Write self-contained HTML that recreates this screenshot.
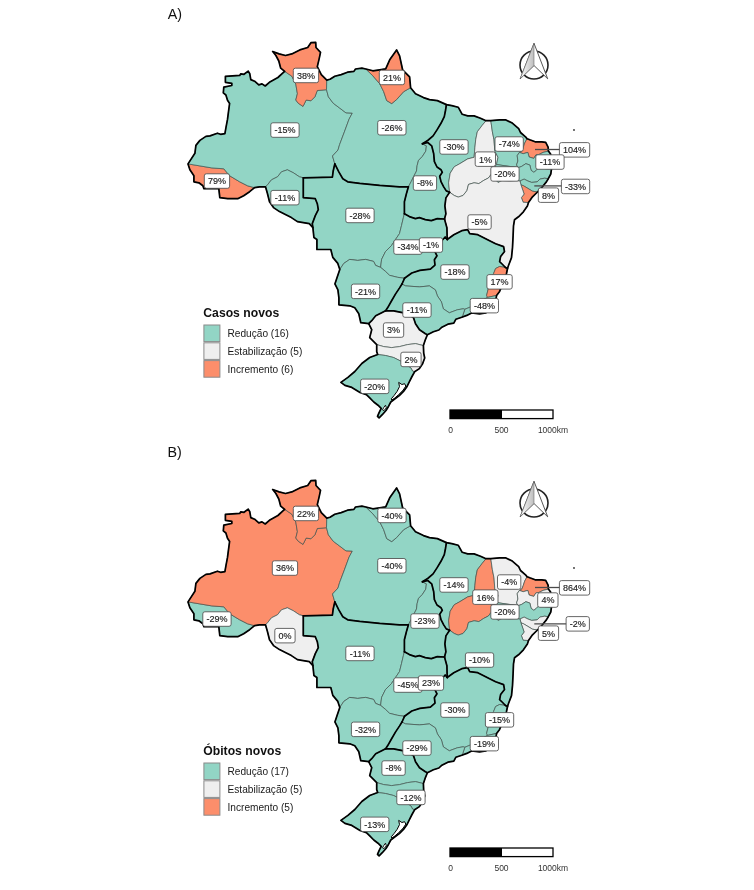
<!DOCTYPE html><html><head><meta charset="utf-8"><title>Mapa</title>
<style>html,body{margin:0;padding:0;background:#fff}svg{display:block}text{font-family:"Liberation Sans",sans-serif}</style></head><body>
<svg width="754" height="890" viewBox="0 0 754 890">
<rect width="754" height="890" fill="#fff"/>
<text x="167.7" y="19.3" font-size="14.3" fill="#111">A)</text>
<text x="167.4" y="457.3" font-size="14.3" fill="#111">B)</text>
<g transform="translate(0,0)">
<path d="M188,163.9 L194.9,153.3 L195.9,145.4 L199.9,140.4 L205.9,136.4 L210,135.9 L217.4,133.2 L220.6,134.3 L224.9,133.7 L225.9,127.9 L227.5,119.4 L228.6,110.9 L229.6,103.5 L227.5,100.3 L225.9,95 L223.3,92.9 L223.8,87.1 L231.8,85.5 L231.8,83.3 L225.4,82.3 L225.4,76.4 L239.7,75.4 L240.8,73.8 L244,74.3 L248.2,71.1 L249.8,73.8 L250.8,79.6 L254.6,81.2 L258.8,84.9 L262,83.9 L265.2,86 L269.4,82.3 L277.9,77.5 L284.3,71.7 L284.7,71.4 L280.7,68.2 L278.8,61 L275.9,55.5 L272.7,51.5 L279.1,53.9 L285.5,55.5 L291.8,53.9 L299.8,49.9 L307.7,47.5 L310.9,42.7 L315.7,42.4 L316,47.5 L320.5,52.3 L319.2,58.6 L317.3,66.6 L321.3,74.6 L326.8,80.1 L330,79.3 L334.8,76.2 L341.2,74.6 L347.5,72.2 L353.9,71.4 L355.5,69 L361.9,68.2 L365.8,69 L372.8,70.8 L379.7,69.8 L385.7,68.8 L389.7,59.8 L396.6,49.9 L399.6,55.9 L402.6,69.8 L409.6,76.8 L410.6,87.7 L415.5,93.7 L423.5,97.6 L429.5,99.6 L437.4,100.6 L446.4,104.6 L451.8,105.6 L458.2,107.2 L462.2,114.3 L467.7,115.9 L474.1,115.9 L480.5,118.3 L486,120.7 L490.8,120.7 L499.6,119.9 L505.9,119.9 L512.3,123.1 L518.7,128.6 L520.5,132.5 L525.8,137.1 L527.1,138.7 L529.8,139.8 L535.1,141.8 L541.7,141.8 L545.7,142.4 L548.1,147.1 L548.4,151.1 L550.6,154.1 L551.3,162 L551.5,168.9 L550.8,174 L548.3,178.7 L546.4,181.9 L541.8,187.5 L537.5,192 L532.5,196.8 L528.5,202.5 L527.4,205.9 L523.4,211.8 L518.5,216.8 L514.5,219.8 L513.5,225.8 L513.1,235.7 L512.5,247.6 L511.5,257.6 L508.5,265.5 L507.5,268.5 L506.5,273.5 L504.5,279.5 L502,285.4 L499.6,291.4 L496.6,295.4 L495.5,301.8 L491,308 L485.9,313 L479.6,313.8 L471.6,313 L466.8,315.4 L461.8,317.3 L455.8,319.3 L453.8,323.2 L447.9,324.2 L441.9,327.2 L438.9,330 L433.4,331.7 L427.4,334.7 L425.4,339.6 L423.4,345.6 L423.7,353.2 L424.7,358 L422.6,363.8 L419.4,368.6 L414.6,371.8 L412,376.5 L409.3,381.8 L406.7,387.1 L403.5,391.4 L399.3,395.6 L395,398.8 L390.8,402 L388.6,406.2 L386,410.5 L382.3,414.7 L379.1,417.9 L377.5,416.3 L379.1,412.6 L381.2,408.4 L378,405.2 L373.8,402 L369.5,397.7 L366.4,394.6 L360,392.4 L351.8,387.4 L344.9,385.4 L340.9,382.4 L347.9,377.4 L354.8,371.5 L361.8,363.5 L369.7,357.5 L377.7,354.5 L376.7,351.6 L376.7,344.6 L373.7,341.6 L369.7,337.6 L371.7,329.7 L368.7,323.7 L360.8,322.7 L358.8,313.8 L354.8,307.8 L349.8,305.8 L338.9,304.8 L338.9,297.9 L337.9,289.9 L334.9,283.9 L336.9,278 L339.8,269.4 L337.8,263.4 L332.8,257.4 L330.8,249.5 L316.9,249.5 L316.9,239.5 L313.9,237.5 L312.9,227.6 L309.3,223.6 L303.3,222.6 L297.4,221.6 L291.4,217.6 L285.4,214.6 L279.5,211.6 L273.5,207.6 L269.5,201.7 L267.5,193.7 L265.5,186.8 L259.6,186.8 L254.6,187.7 L249.6,191.7 L243.7,195.7 L237.7,198.7 L227.7,198.7 L219.8,197.7 L218.8,188.7 L203.9,188.7 L202.9,185.8 L198.9,182.8 L193.9,181.8 L193.9,175.8 L189.9,169.8 L188,163.9Z" fill="#92d5c5"/>
<g stroke="#46534f" stroke-width="0.7" stroke-linejoin="round">
<path d="M188,163.9 L199.9,165.9 L211.8,167.9 L223.8,168.8 L229.7,175.8 L239.7,181.8 L247.6,185.8 L254.6,187.7 L249.6,191.7 L243.7,195.7 L237.7,198.7 L227.7,198.7 L219.8,197.7 L218.8,188.7 L203.9,188.7 L202.9,185.8 L198.9,182.8 L193.9,181.8 L193.9,175.8 L189.9,169.8 L188,163.9Z" fill="#fc8e6b"/>
<path d="M188,163.9 L194.9,153.3 L195.9,145.4 L199.9,140.4 L205.9,136.4 L210,135.9 L217.4,133.2 L220.6,134.3 L224.9,133.7 L225.9,127.9 L227.5,119.4 L228.6,110.9 L229.6,103.5 L227.5,100.3 L225.9,95 L223.3,92.9 L223.8,87.1 L231.8,85.5 L231.8,83.3 L225.4,82.3 L225.4,76.4 L239.7,75.4 L240.8,73.8 L244,74.3 L248.2,71.1 L249.8,73.8 L250.8,79.6 L254.6,81.2 L258.8,84.9 L262,83.9 L265.2,86 L269.4,82.3 L277.9,77.5 L284.3,71.7 L284.7,71.4 L291.8,76.2 L295.8,84.1 L297.4,93.7 L295.8,100 L298.2,103.2 L303,106.4 L306.2,100 L310.9,100.8 L314.9,96.8 L317.3,90.5 L326.5,89.7 L328.4,96.8 L333.2,103.2 L339.6,108 L345.9,112.8 L352.3,113.1 L349.1,119.1 L344.4,131.9 L339.6,144.6 L338,150 L332.5,156 L334.8,163.9 L333.2,171 L332.4,177.2 L303.3,177.8 L299.4,176.8 L293.4,172.8 L287.4,169.8 L281.5,171.8 L277.5,176.8 L271.5,179.8 L267.5,184.8 L265.5,186.8 L259.6,186.8 L254.6,187.7 L247.6,185.8 L239.7,181.8 L229.7,175.8 L223.8,168.8 L211.8,167.9 L199.9,165.9 L188,163.9Z" fill="#92d5c5"/>
<path d="M284.7,71.4 L280.7,68.2 L278.8,61 L275.9,55.5 L272.7,51.5 L279.1,53.9 L285.5,55.5 L291.8,53.9 L299.8,49.9 L307.7,47.5 L310.9,42.7 L315.7,42.4 L316,47.5 L320.5,52.3 L319.2,58.6 L317.3,66.6 L321.3,74.6 L326.8,80.1 L326.5,89.7 L317.3,90.5 L314.9,96.8 L310.9,100.8 L306.2,100 L303,106.4 L298.2,103.2 L295.8,100 L297.4,93.7 L295.8,84.1 L291.8,76.2 L284.7,71.4Z" fill="#fc8e6b"/>
<path d="M265.5,186.8 L267.5,184.8 L271.5,179.8 L277.5,176.8 L281.5,171.8 L287.4,169.8 L293.4,172.8 L299.4,176.8 L303.3,177.8 L303.3,197.7 L315.3,198.7 L317.3,203.7 L318.3,209.6 L315.3,215.6 L312.3,223.6 L312.9,227.6 L309.3,223.6 L303.3,222.6 L297.4,221.6 L291.4,217.6 L285.4,214.6 L279.5,211.6 L273.5,207.6 L269.5,201.7 L267.5,193.7 L265.5,186.8Z" fill="#92d5c5"/>
<path d="M326.8,80.1 L330,79.3 L334.8,76.2 L341.2,74.6 L347.5,72.2 L353.9,71.4 L355.5,69 L361.9,68.2 L365.8,69 L372.8,75.8 L379.7,83.7 L383.7,91.7 L386.7,100.6 L391.7,103.6 L396.6,99.6 L403.6,91.7 L410.6,87.7 L415.5,93.7 L423.5,97.6 L429.5,99.6 L437.4,100.6 L446.4,104.6 L445.6,110 L444.3,116.6 L441,123.3 L437,129.9 L433.1,135.9 L427.7,140.5 L422.4,143.8 L426.4,145.8 L425.8,151.1 L422.4,156.4 L418.5,160.4 L417.1,165.7 L416.5,171 L413.8,176.3 L411.2,181.6 L408.4,186.8 L399.5,186.8 L379.6,185.4 L359.7,183.4 L347.7,181.8 L342.8,178.8 L338.8,171.9 L334.8,163.9 L332.5,156 L338,150 L339.6,144.6 L344.4,131.9 L349.1,119.1 L352.3,113.1 L345.9,112.8 L339.6,108 L333.2,103.2 L328.4,96.8 L326.5,89.7 L326.8,80.1Z" fill="#92d5c5"/>
<path d="M365.8,69 L372.8,70.8 L379.7,69.8 L385.7,68.8 L389.7,59.8 L396.6,49.9 L399.6,55.9 L402.6,69.8 L409.6,76.8 L410.6,87.7 L403.6,91.7 L396.6,99.6 L391.7,103.6 L386.7,100.6 L383.7,91.7 L379.7,83.7 L372.8,75.8 L365.8,69Z" fill="#fc8e6b"/>
<path d="M422.4,143.8 L427.7,142.5 L431.7,145.8 L433.7,153.8 L434.4,161.7 L437,167 L441,169.7 L442.3,172.3 L439.7,176.3 L441,181.6 L443.7,186.9 L446.3,190.9 L449.6,192.2 L445.9,197.9 L444.9,205.9 L445.9,213.8 L444.5,219 L437.3,218.6 L431.3,220.6 L425.3,219.6 L419.4,217.6 L415.4,218.6 L409.4,216.6 L404.4,213.7 L404.4,201.7 L406.4,193.8 L408.4,186.8 L411.2,181.6 L413.8,176.3 L416.5,171 L417.1,165.7 L418.5,160.4 L422.4,156.4 L425.8,151.1 L426.4,145.8 L422.4,143.8Z" fill="#92d5c5"/>
<path d="M446.4,104.6 L451.8,105.6 L458.2,107.2 L462.2,114.3 L467.7,115.9 L474.1,115.9 L480.5,118.3 L486,120.7 L482.1,125.5 L477.3,131.8 L475.7,139.8 L474.9,147.7 L474.1,157.3 L467.7,158.9 L459.8,163.7 L454.2,166.8 L450.2,173.2 L448.6,182.8 L449.6,192.2 L446.3,190.9 L443.7,186.9 L441,181.6 L439.7,176.3 L442.3,172.3 L441,169.7 L437,167 L434.4,161.7 L433.7,153.8 L431.7,145.8 L427.7,142.5 L422.4,143.8 L427.7,140.5 L433.1,135.9 L437,129.9 L441,123.3 L444.3,116.6 L445.6,110 L446.4,104.6Z" fill="#92d5c5"/>
<path d="M486,120.7 L490.8,120.7 L492.4,131.8 L494,139.8 L494.8,150.9 L498,157.3 L496.5,164.5 L493,170 L494,178 L490.8,174.8 L488.4,178 L483.7,180.4 L478.9,183.6 L474.1,182.8 L468.5,184.4 L466.9,190.7 L463,195.5 L458.2,197.1 L454.2,195.5 L449.6,192.2 L448.6,182.8 L450.2,173.2 L454.2,166.8 L459.8,163.7 L467.7,158.9 L474.1,157.3 L474.9,147.7 L475.7,139.8 L477.3,131.8 L482.1,125.5 L486,120.7Z" fill="#efefef"/>
<path d="M490.8,120.7 L499.6,119.9 L505.9,119.9 L512.3,123.1 L518.7,128.6 L520.5,132.5 L525.8,137.1 L527.1,138.7 L524.7,143.1 L523.2,147.7 L521.8,151.1 L519.4,152.4 L517.2,155.7 L517.9,161 L516.5,165 L518.5,167.6 L510,166.5 L503,165.5 L496.5,164.5 L498,157.3 L494.8,150.9 L494,139.8 L492.4,131.8 L490.8,120.7Z" fill="#92d5c5"/>
<path d="M527.1,138.7 L529.8,139.8 L535.1,141.8 L541.7,141.8 L545.7,142.4 L548.1,147.1 L548.4,151.1 L543.1,152.4 L539.1,154.4 L535.8,155 L533.8,158.4 L529.1,157 L527.8,152.4 L523.2,153.7 L519.4,152.4 L521.8,151.1 L523.2,147.7 L524.7,143.1 L527.1,138.7Z" fill="#fc8e6b"/>
<path d="M519.4,152.4 L523.2,153.7 L527.8,152.4 L529.1,157 L533.8,158.4 L535.8,155 L539.1,154.4 L543.1,152.4 L548.4,151.1 L550.6,154.1 L551.3,162 L551.5,168.9 L547,169 L543.1,168.3 L539.1,167.6 L536.4,170.3 L533.8,172.3 L531.1,170.3 L529.8,165 L525.8,163.7 L521.8,166.3 L518.5,167.6 L516.5,165 L517.9,161 L517.2,155.7 L519.4,152.4Z" fill="#92d5c5"/>
<path d="M496.5,164.5 L503,165.5 L510,166.5 L518.5,167.6 L521.8,166.3 L525.8,163.7 L529.8,165 L531.1,170.3 L533.8,172.3 L536.4,170.3 L539.1,167.6 L543.1,168.3 L547,169 L551.5,168.9 L550.8,174 L548.3,178.7 L544.6,178.2 L539.9,179.1 L537.1,181.9 L531.6,182.4 L527.9,181 L524.1,179.1 L520,181 L516,180.5 L510,181 L502,180.5 L498,182.5 L494,178 L493,170 L496.5,164.5Z" fill="#92d5c5"/>
<path d="M520,181 L524.1,179.1 L527.9,181 L531.6,182.4 L537.1,181.9 L539.9,179.1 L544.6,178.2 L548.3,178.7 L546.4,181.9 L541.8,187.5 L537.5,192 L532.5,191.2 L527.9,188.4 L523.2,185.6 L521,185 L520,181Z" fill="#92d5c5"/>
<path d="M521,185 L523.2,185.6 L527.9,188.4 L532.5,191.2 L537.5,192 L532.5,196.8 L528.5,202.5 L523.2,202.3 L521.4,197.7 L524.1,194 L521,185Z" fill="#fc8e6b"/>
<path d="M449.6,192.2 L454.2,195.5 L458.2,197.1 L463,195.5 L466.9,190.7 L468.5,184.4 L474.1,182.8 L478.9,183.6 L483.7,180.4 L488.4,178 L490.8,174.8 L494,178 L498,182.5 L502,180.5 L510,181 L516,180.5 L520,181 L521,185 L524.1,194 L521.4,197.7 L523.2,202.3 L528.5,202.5 L527.4,205.9 L523.4,211.8 L518.5,216.8 L514.5,219.8 L513.5,225.8 L513.1,235.7 L512.5,247.6 L511.5,257.6 L508.5,265.5 L507.5,268.5 L505.5,267.5 L502.6,264.5 L499.6,261.6 L500.6,256.6 L504.5,251.6 L503.6,246.6 L495.6,243.7 L489.6,240.7 L483.7,237.7 L477.7,234.7 L469.7,233.7 L467.7,229.7 L461.8,230.7 L453.8,234.7 L447.2,239.5 L446.9,227.7 L444.5,219 L445.9,213.8 L444.9,205.9 L445.9,197.9 L449.6,192.2Z" fill="#efefef"/>
<path d="M303.3,177.8 L332.4,177.2 L333.2,171 L334.8,163.9 L338.8,171.9 L342.8,178.8 L347.7,181.8 L359.7,183.4 L379.6,185.4 L399.5,186.8 L408.4,186.8 L406.4,193.8 L404.4,201.7 L404.4,213.7 L403.4,217.6 L401.5,225.6 L399.5,233.6 L395.5,239.5 L391.5,245.5 L385.5,251.5 L381.6,259.4 L380.6,267.4 L375.6,265.4 L373.6,261.4 L365.6,259.4 L357.7,260.4 L349.7,259.4 L343.8,263.4 L339.8,269.4 L337.8,263.4 L332.8,257.4 L330.8,249.5 L316.9,249.5 L316.9,239.5 L313.9,237.5 L312.9,227.6 L312.3,223.6 L315.3,215.6 L318.3,209.6 L317.3,203.7 L315.3,198.7 L303.3,197.7 L303.3,177.8Z" fill="#92d5c5"/>
<path d="M404.4,213.7 L409.4,216.6 L415.4,218.6 L419.4,217.6 L425.3,219.6 L431.3,220.6 L437.3,218.6 L444.5,219 L446.9,227.7 L447.2,239.5 L445.2,237 L441.5,241 L437.5,247 L435,251.8 L437,255.8 L434.4,259.8 L435,265.1 L430.4,269.1 L419.8,270.4 L411.8,273 L404.5,278.3 L397.5,277.3 L389.5,275.3 L385.5,271.4 L380.6,267.4 L381.6,259.4 L385.5,251.5 L391.5,245.5 L395.5,239.5 L399.5,233.6 L401.5,225.6 L403.4,217.6 L404.4,213.7Z" fill="#92d5c5"/>
<path d="M339.8,269.4 L343.8,263.4 L349.7,259.4 L357.7,260.4 L365.6,259.4 L373.6,261.4 L375.6,265.4 L380.6,267.4 L385.5,271.4 L389.5,275.3 L397.5,277.3 L404.5,278.3 L402,284 L399.6,287.9 L395.6,293.9 L391.6,300.8 L387.6,307.8 L385.6,310.8 L381.7,312.8 L375.7,315.8 L371.7,320.7 L368.7,323.7 L360.8,322.7 L358.8,313.8 L354.8,307.8 L349.8,305.8 L338.9,304.8 L338.9,297.9 L337.9,289.9 L334.9,283.9 L336.9,278 L339.8,269.4Z" fill="#92d5c5"/>
<path d="M447.2,239.5 L453.8,234.7 L461.8,230.7 L467.7,229.7 L469.7,233.7 L477.7,234.7 L483.7,237.7 L489.6,240.7 L495.6,243.7 L503.6,246.6 L504.5,251.6 L500.6,256.6 L499.6,261.6 L502.6,264.5 L505.5,267.5 L499.6,266.5 L495.6,268.5 L493.6,273.5 L490.6,279.5 L488.6,287.4 L486.6,295.4 L487.6,297.4 L483.7,299.4 L479.7,303.3 L475.7,304.9 L469.7,307.3 L464.8,309.3 L463.2,308.8 L457.3,309.8 L449.3,312.8 L443.3,308.8 L441.4,301.8 L437.4,295.9 L435.4,289.9 L429.4,285.9 L419.5,286.9 L405.5,285.9 L402,284 L404.5,278.3 L411.8,273 L419.8,270.4 L430.4,269.1 L435,265.1 L434.4,259.8 L437,255.8 L435,251.8 L437.5,247 L441.5,241 L445.2,237 L447.2,239.5Z" fill="#92d5c5"/>
<path d="M505.5,267.5 L507.5,268.5 L506.5,273.5 L504.5,279.5 L502,285.4 L499.6,291.4 L496.6,295.4 L487.6,297.4 L486.6,295.4 L488.6,287.4 L490.6,279.5 L493.6,273.5 L495.6,268.5 L499.6,266.5 L505.5,267.5Z" fill="#fc8e6b"/>
<path d="M464.8,309.3 L469.7,307.3 L475.7,304.9 L479.7,303.3 L483.7,299.4 L487.6,297.4 L496.6,295.4 L495.5,301.8 L491,308 L485.9,313 L479.6,313.8 L471.6,313 L466.8,315.4 L461.8,317.3 L462.8,315.3 L464.8,309.3Z" fill="#92d5c5"/>
<path d="M402,284 L405.5,285.9 L419.5,286.9 L429.4,285.9 L435.4,289.9 L437.4,295.9 L441.4,301.8 L443.3,308.8 L449.3,312.8 L457.3,309.8 L463.2,308.8 L464.8,309.3 L462.8,315.3 L461.8,317.3 L455.8,319.3 L453.8,323.2 L447.9,324.2 L441.9,327.2 L438.9,330 L433.4,331.7 L427.4,334.7 L425.4,333.7 L419.5,329.7 L415.5,323.7 L413.5,317.7 L409.5,314.8 L403.6,312.8 L393.6,310.8 L385.6,310.8 L387.6,307.8 L391.6,300.8 L395.6,293.9 L399.6,287.9 L402,284Z" fill="#92d5c5"/>
<path d="M385.6,310.8 L393.6,310.8 L403.6,312.8 L409.5,314.8 L413.5,317.7 L415.5,323.7 L419.5,329.7 L425.4,333.7 L427.4,334.7 L425.4,339.6 L423.4,345.6 L415.5,343.6 L407.5,344.6 L399.6,346.6 L391.6,347.6 L383.7,346.6 L376.7,344.6 L373.7,341.6 L369.7,337.6 L371.7,329.7 L368.7,323.7 L371.7,320.7 L375.7,315.8 L381.7,312.8 L385.6,310.8Z" fill="#efefef"/>
<path d="M376.7,344.6 L383.7,346.6 L391.6,347.6 L399.6,346.6 L407.5,344.6 L415.5,343.6 L423.4,345.6 L423.7,353.2 L424.7,358 L422.6,363.8 L419.4,368.6 L414.6,371.8 L412.5,371 L411,368 L407,365.5 L401.6,361.5 L393.6,357.5 L385.6,355.5 L377.7,354.5 L376.7,351.6 L376.7,344.6Z" fill="#efefef"/>
<path d="M377.7,354.5 L385.6,355.5 L393.6,357.5 L401.6,361.5 L407,365.5 L411,368 L412.5,371 L414.6,371.8 L412,376.5 L409.3,381.8 L406.7,387.1 L403.5,391.4 L399.3,395.6 L395,398.8 L390.8,402 L388.6,406.2 L386,410.5 L382.3,414.7 L379.1,417.9 L377.5,416.3 L379.1,412.6 L381.2,408.4 L378,405.2 L373.8,402 L369.5,397.7 L366.4,394.6 L360,392.4 L351.8,387.4 L344.9,385.4 L340.9,382.4 L347.9,377.4 L354.8,371.5 L361.8,363.5 L369.7,357.5 L377.7,354.5Z" fill="#92d5c5"/>
<rect x="426.7" y="242.3" width="8.5" height="5.3" fill="#efefef"/>
</g>
<path d="M398.7,382.4 L401.9,384.5 L404.6,383.7 L405.8,386.1 L403,390.3 L398.7,394.6 L394.5,398.3 L391.8,400.1 L391.3,398.8 L394,395.6 L397.1,391.4 L399.5,386.6Z" fill="#fff" stroke="#000" stroke-width="1"/><path d="M385.5,405.2 L386.3,407.8 L383.9,410.7 L382.5,409.9 L383.9,407.3Z" fill="#fff" stroke="#000" stroke-width="0.9"/>
<g fill="none" stroke="#000" stroke-width="1.7" stroke-linejoin="round" stroke-linecap="round">
<path d="M188,163.9 L194.9,153.3 L195.9,145.4 L199.9,140.4 L205.9,136.4 L210,135.9 L217.4,133.2 L220.6,134.3 L224.9,133.7 L225.9,127.9 L227.5,119.4 L228.6,110.9 L229.6,103.5 L227.5,100.3 L225.9,95 L223.3,92.9 L223.8,87.1 L231.8,85.5 L231.8,83.3 L225.4,82.3 L225.4,76.4 L239.7,75.4 L240.8,73.8 L244,74.3 L248.2,71.1 L249.8,73.8 L250.8,79.6 L254.6,81.2 L258.8,84.9 L262,83.9 L265.2,86 L269.4,82.3 L277.9,77.5 L284.3,71.7 L284.7,71.4 L280.7,68.2 L278.8,61 L275.9,55.5 L272.7,51.5 L279.1,53.9 L285.5,55.5 L291.8,53.9 L299.8,49.9 L307.7,47.5 L310.9,42.7 L315.7,42.4 L316,47.5 L320.5,52.3 L319.2,58.6 L317.3,66.6 L321.3,74.6 L326.8,80.1 L330,79.3 L334.8,76.2 L341.2,74.6 L347.5,72.2 L353.9,71.4 L355.5,69 L361.9,68.2 L365.8,69 L372.8,70.8 L379.7,69.8 L385.7,68.8 L389.7,59.8 L396.6,49.9 L399.6,55.9 L402.6,69.8 L409.6,76.8 L410.6,87.7 L415.5,93.7 L423.5,97.6 L429.5,99.6 L437.4,100.6 L446.4,104.6 L451.8,105.6 L458.2,107.2 L462.2,114.3 L467.7,115.9 L474.1,115.9 L480.5,118.3 L486,120.7 L490.8,120.7 L499.6,119.9 L505.9,119.9 L512.3,123.1 L518.7,128.6 L520.5,132.5 L525.8,137.1 L527.1,138.7 L529.8,139.8 L535.1,141.8 L541.7,141.8 L545.7,142.4 L548.1,147.1 L548.4,151.1 L550.6,154.1 L551.3,162 L551.5,168.9 L550.8,174 L548.3,178.7 L546.4,181.9 L541.8,187.5 L537.5,192 L532.5,196.8 L528.5,202.5 L527.4,205.9 L523.4,211.8 L518.5,216.8 L514.5,219.8 L513.5,225.8 L513.1,235.7 L512.5,247.6 L511.5,257.6 L508.5,265.5 L507.5,268.5 L506.5,273.5 L504.5,279.5 L502,285.4 L499.6,291.4 L496.6,295.4 L495.5,301.8 L491,308 L485.9,313 L479.6,313.8 L471.6,313 L466.8,315.4 L461.8,317.3 L455.8,319.3 L453.8,323.2 L447.9,324.2 L441.9,327.2 L438.9,330 L433.4,331.7 L427.4,334.7 L425.4,339.6 L423.4,345.6 L423.7,353.2 L424.7,358 L422.6,363.8 L419.4,368.6 L414.6,371.8 L412,376.5 L409.3,381.8 L406.7,387.1 L403.5,391.4 L399.3,395.6 L395,398.8 L390.8,402 L388.6,406.2 L386,410.5 L382.3,414.7 L379.1,417.9 L377.5,416.3 L379.1,412.6 L381.2,408.4 L378,405.2 L373.8,402 L369.5,397.7 L366.4,394.6 L360,392.4 L351.8,387.4 L344.9,385.4 L340.9,382.4 L347.9,377.4 L354.8,371.5 L361.8,363.5 L369.7,357.5 L377.7,354.5 L376.7,351.6 L376.7,344.6 L373.7,341.6 L369.7,337.6 L371.7,329.7 L368.7,323.7 L360.8,322.7 L358.8,313.8 L354.8,307.8 L349.8,305.8 L338.9,304.8 L338.9,297.9 L337.9,289.9 L334.9,283.9 L336.9,278 L339.8,269.4 L337.8,263.4 L332.8,257.4 L330.8,249.5 L316.9,249.5 L316.9,239.5 L313.9,237.5 L312.9,227.6 L309.3,223.6 L303.3,222.6 L297.4,221.6 L291.4,217.6 L285.4,214.6 L279.5,211.6 L273.5,207.6 L269.5,201.7 L267.5,193.7 L265.5,186.8 L259.6,186.8 L254.6,187.7 L249.6,191.7 L243.7,195.7 L237.7,198.7 L227.7,198.7 L219.8,197.7 L218.8,188.7 L203.9,188.7 L202.9,185.8 L198.9,182.8 L193.9,181.8 L193.9,175.8 L189.9,169.8 L188,163.9Z"/>
<path d="M303.3,177.8 L303.3,197.7 L315.3,198.7 L317.3,203.7 L318.3,209.6 L315.3,215.6 L312.3,223.6 L312.9,227.6"/>
<path d="M303.3,177.8 L332.4,177.2 L333.2,171 L334.8,163.9"/>
<path d="M334.8,163.9 L338.8,171.9 L342.8,178.8 L347.7,181.8 L359.7,183.4 L379.6,185.4 L399.5,186.8 L408.4,186.8"/>
<path d="M408.4,186.8 L406.4,193.8 L404.4,201.7 L404.4,213.7"/>
<path d="M404.4,213.7 L409.4,216.6 L415.4,218.6 L419.4,217.6 L425.3,219.6 L431.3,220.6 L437.3,218.6 L444.5,219"/>
<path d="M446.4,104.6 L445.6,110 L444.3,116.6 L441,123.3 L437,129.9 L433.1,135.9 L427.7,140.5 L422.4,143.8"/>
<path d="M422.4,143.8 L427.7,142.5 L431.7,145.8 L433.7,153.8 L434.4,161.7 L437,167 L441,169.7 L442.3,172.3 L439.7,176.3 L441,181.6 L443.7,186.9 L446.3,190.9 L449.6,192.2"/>
<path d="M449.6,192.2 L445.9,197.9 L444.9,205.9 L445.9,213.8 L444.5,219"/>
<path d="M444.5,219 L446.9,227.7 L447.2,239.5"/>
<path d="M447.2,239.5 L445.2,237 L441.5,241 L437.5,247 L435,251.8 L437,255.8 L434.4,259.8 L435,265.1 L430.4,269.1 L419.8,270.4 L411.8,273 L404.5,278.3"/>
<path d="M404.5,278.3 L402,284"/>
<path d="M402,284 L399.6,287.9 L395.6,293.9 L391.6,300.8 L387.6,307.8 L385.6,310.8"/>
<path d="M385.6,310.8 L381.7,312.8 L375.7,315.8 L371.7,320.7 L368.7,323.7"/>
<path d="M385.6,310.8 L393.6,310.8 L403.6,312.8 L409.5,314.8 L413.5,317.7 L415.5,323.7 L419.5,329.7 L425.4,333.7 L427.4,334.7"/>
<path d="M447.2,239.5 L453.8,234.7 L461.8,230.7 L467.7,229.7 L469.7,233.7 L477.7,234.7 L483.7,237.7 L489.6,240.7 L495.6,243.7 L503.6,246.6 L504.5,251.6 L500.6,256.6 L499.6,261.6 L502.6,264.5 L505.5,267.5"/>
<path d="M505.5,267.5 L507.5,268.5"/>
</g>
<circle cx="574" cy="130" r="0.9" fill="#333"/>
<line x1="535" y1="149.5" x2="560" y2="149.5" stroke="#4a4a4a" stroke-width="1.3"/>
<line x1="534.3" y1="185.9" x2="562" y2="185.9" stroke="#4a4a4a" stroke-width="1.3"/>
<g font-size="9" fill="#222" stroke="#222" stroke-width="0.15">
<rect x="293.3" y="68.2" width="25.3" height="14.5" rx="2.1" fill="#fff" stroke="#4c4c4c" stroke-width="0.85"/><text x="306.0" y="78.8" text-anchor="middle">38%</text>
<rect x="379.3" y="70.2" width="25.3" height="14.5" rx="2.1" fill="#fff" stroke="#4c4c4c" stroke-width="0.85"/><text x="392.0" y="80.8" text-anchor="middle">21%</text>
<rect x="270.8" y="122.8" width="28.3" height="14.5" rx="2.1" fill="#fff" stroke="#4c4c4c" stroke-width="0.85"/><text x="285.0" y="133.3" text-anchor="middle">-15%</text>
<rect x="377.7" y="120.5" width="28.3" height="14.5" rx="2.1" fill="#fff" stroke="#4c4c4c" stroke-width="0.85"/><text x="391.9" y="131.1" text-anchor="middle">-26%</text>
<rect x="204.3" y="173.8" width="25.3" height="14.5" rx="2.1" fill="#fff" stroke="#4c4c4c" stroke-width="0.85"/><text x="217.0" y="184.3" text-anchor="middle">79%</text>
<rect x="270.8" y="190.4" width="28.3" height="14.5" rx="2.1" fill="#fff" stroke="#4c4c4c" stroke-width="0.85"/><text x="285.0" y="201.0" text-anchor="middle">-11%</text>
<rect x="345.8" y="208.2" width="28.3" height="14.5" rx="2.1" fill="#fff" stroke="#4c4c4c" stroke-width="0.85"/><text x="360.0" y="218.7" text-anchor="middle">-28%</text>
<rect x="413.3" y="175.8" width="23.3" height="14.5" rx="2.1" fill="#fff" stroke="#4c4c4c" stroke-width="0.85"/><text x="425.0" y="186.3" text-anchor="middle">-8%</text>
<rect x="439.8" y="139.7" width="28.3" height="14.5" rx="2.1" fill="#fff" stroke="#4c4c4c" stroke-width="0.85"/><text x="454.0" y="150.2" text-anchor="middle">-30%</text>
<rect x="475.2" y="151.9" width="20.3" height="14.5" rx="2.1" fill="#fff" stroke="#4c4c4c" stroke-width="0.85"/><text x="485.4" y="162.5" text-anchor="middle">1%</text>
<rect x="495.0" y="136.8" width="28.3" height="14.5" rx="2.1" fill="#fff" stroke="#4c4c4c" stroke-width="0.85"/><text x="509.2" y="147.4" text-anchor="middle">-74%</text>
<rect x="559.4" y="142.6" width="30.3" height="14.5" rx="2.1" fill="#fff" stroke="#4c4c4c" stroke-width="0.85"/><text x="574.6" y="153.1" text-anchor="middle">104%</text>
<rect x="535.8" y="154.8" width="28.3" height="14.5" rx="2.1" fill="#fff" stroke="#4c4c4c" stroke-width="0.85"/><text x="550.0" y="165.3" text-anchor="middle">-11%</text>
<rect x="490.8" y="166.7" width="28.3" height="14.5" rx="2.1" fill="#fff" stroke="#4c4c4c" stroke-width="0.85"/><text x="505.0" y="177.2" text-anchor="middle">-20%</text>
<rect x="561.4" y="179.2" width="28.3" height="14.5" rx="2.1" fill="#fff" stroke="#4c4c4c" stroke-width="0.85"/><text x="575.6" y="189.8" text-anchor="middle">-33%</text>
<rect x="538.3" y="187.9" width="20.3" height="14.5" rx="2.1" fill="#fff" stroke="#4c4c4c" stroke-width="0.85"/><text x="548.5" y="198.5" text-anchor="middle">8%</text>
<rect x="467.9" y="214.8" width="23.3" height="14.5" rx="2.1" fill="#fff" stroke="#4c4c4c" stroke-width="0.85"/><text x="479.6" y="225.4" text-anchor="middle">-5%</text>
<rect x="393.8" y="239.8" width="28.3" height="14.5" rx="2.1" fill="#fff" stroke="#4c4c4c" stroke-width="0.85"/><text x="408.0" y="250.3" text-anchor="middle">-34%</text>
<rect x="419.3" y="237.8" width="23.3" height="14.5" rx="2.1" fill="#fff" stroke="#4c4c4c" stroke-width="0.85"/><text x="431.0" y="248.3" text-anchor="middle">-1%</text>
<rect x="440.8" y="264.8" width="28.3" height="14.5" rx="2.1" fill="#fff" stroke="#4c4c4c" stroke-width="0.85"/><text x="455.0" y="275.3" text-anchor="middle">-18%</text>
<rect x="486.9" y="274.6" width="25.3" height="14.5" rx="2.1" fill="#fff" stroke="#4c4c4c" stroke-width="0.85"/><text x="499.6" y="285.1" text-anchor="middle">17%</text>
<rect x="470.2" y="298.4" width="28.3" height="14.5" rx="2.1" fill="#fff" stroke="#4c4c4c" stroke-width="0.85"/><text x="484.4" y="308.9" text-anchor="middle">-48%</text>
<rect x="402.8" y="302.8" width="28.3" height="14.5" rx="2.1" fill="#fff" stroke="#4c4c4c" stroke-width="0.85"/><text x="417.0" y="313.3" text-anchor="middle">-11%</text>
<rect x="351.4" y="284.1" width="28.3" height="14.5" rx="2.1" fill="#fff" stroke="#4c4c4c" stroke-width="0.85"/><text x="365.6" y="294.7" text-anchor="middle">-21%</text>
<rect x="383.4" y="322.8" width="20.3" height="14.5" rx="2.1" fill="#fff" stroke="#4c4c4c" stroke-width="0.85"/><text x="393.6" y="333.3" text-anchor="middle">3%</text>
<rect x="400.8" y="352.2" width="20.3" height="14.5" rx="2.1" fill="#fff" stroke="#4c4c4c" stroke-width="0.85"/><text x="411.0" y="362.8" text-anchor="middle">2%</text>
<rect x="360.6" y="379.1" width="28.3" height="14.5" rx="2.1" fill="#fff" stroke="#4c4c4c" stroke-width="0.85"/><text x="374.8" y="389.7" text-anchor="middle">-20%</text>
</g>
<text x="203.3" y="316.6" font-size="12.2" font-weight="bold" fill="#111">Casos novos</text>
<rect x="203.9" y="325.0" width="16" height="16.6" fill="#92d5c5" stroke="#8a8a8a" stroke-width="1"/>
<text x="227.5" y="337.4" font-size="10.15" fill="#1a1a1a">Redução (16)</text>
<rect x="203.9" y="342.8" width="16" height="16.6" fill="#efefef" stroke="#8a8a8a" stroke-width="1"/>
<text x="227.5" y="355.2" font-size="10.15" fill="#1a1a1a">Estabilização (5)</text>
<rect x="203.9" y="360.6" width="16" height="16.6" fill="#fc8e6b" stroke="#8a8a8a" stroke-width="1"/>
<text x="227.5" y="373.0" font-size="10.15" fill="#1a1a1a">Incremento (6)</text>
<defs><linearGradient id="ng0" x1="0" y1="0" x2="1" y2="0"><stop offset="0" stop-color="#fff"/><stop offset="1" stop-color="#bdbdbd"/></linearGradient></defs>
<circle cx="534" cy="65" r="14" fill="none" stroke="#222" stroke-width="1.6"/>
<path d="M534,43.3 L547.7,78.8 L534,65.5 L520.2,78.8Z" fill="#fff" stroke="#444" stroke-width="0.9" stroke-linejoin="miter"/>
<path d="M534,43.3 L534,65.5 L520.2,78.8Z" fill="url(#ng0)" stroke="#555" stroke-width="0.5"/>
<rect x="450" y="410" width="103" height="8.6" fill="#fff" stroke="#000" stroke-width="1.3"/>
<rect x="450" y="410" width="52" height="8.6" fill="#000"/>
<g font-size="8.5" fill="#333" text-anchor="middle"><text x="450.5" y="432.8">0</text><text x="501.5" y="432.8">500</text><text x="553" y="432.8">1000km</text></g>
</g>
<g transform="translate(0,438)">
<path d="M188,163.9 L194.9,153.3 L195.9,145.4 L199.9,140.4 L205.9,136.4 L210,135.9 L217.4,133.2 L220.6,134.3 L224.9,133.7 L225.9,127.9 L227.5,119.4 L228.6,110.9 L229.6,103.5 L227.5,100.3 L225.9,95 L223.3,92.9 L223.8,87.1 L231.8,85.5 L231.8,83.3 L225.4,82.3 L225.4,76.4 L239.7,75.4 L240.8,73.8 L244,74.3 L248.2,71.1 L249.8,73.8 L250.8,79.6 L254.6,81.2 L258.8,84.9 L262,83.9 L265.2,86 L269.4,82.3 L277.9,77.5 L284.3,71.7 L284.7,71.4 L280.7,68.2 L278.8,61 L275.9,55.5 L272.7,51.5 L279.1,53.9 L285.5,55.5 L291.8,53.9 L299.8,49.9 L307.7,47.5 L310.9,42.7 L315.7,42.4 L316,47.5 L320.5,52.3 L319.2,58.6 L317.3,66.6 L321.3,74.6 L326.8,80.1 L330,79.3 L334.8,76.2 L341.2,74.6 L347.5,72.2 L353.9,71.4 L355.5,69 L361.9,68.2 L365.8,69 L372.8,70.8 L379.7,69.8 L385.7,68.8 L389.7,59.8 L396.6,49.9 L399.6,55.9 L402.6,69.8 L409.6,76.8 L410.6,87.7 L415.5,93.7 L423.5,97.6 L429.5,99.6 L437.4,100.6 L446.4,104.6 L451.8,105.6 L458.2,107.2 L462.2,114.3 L467.7,115.9 L474.1,115.9 L480.5,118.3 L486,120.7 L490.8,120.7 L499.6,119.9 L505.9,119.9 L512.3,123.1 L518.7,128.6 L520.5,132.5 L525.8,137.1 L527.1,138.7 L529.8,139.8 L535.1,141.8 L541.7,141.8 L545.7,142.4 L548.1,147.1 L548.4,151.1 L550.6,154.1 L551.3,162 L551.5,168.9 L550.8,174 L548.3,178.7 L546.4,181.9 L541.8,187.5 L537.5,192 L532.5,196.8 L528.5,202.5 L527.4,205.9 L523.4,211.8 L518.5,216.8 L514.5,219.8 L513.5,225.8 L513.1,235.7 L512.5,247.6 L511.5,257.6 L508.5,265.5 L507.5,268.5 L506.5,273.5 L504.5,279.5 L502,285.4 L499.6,291.4 L496.6,295.4 L495.5,301.8 L491,308 L485.9,313 L479.6,313.8 L471.6,313 L466.8,315.4 L461.8,317.3 L455.8,319.3 L453.8,323.2 L447.9,324.2 L441.9,327.2 L438.9,330 L433.4,331.7 L427.4,334.7 L425.4,339.6 L423.4,345.6 L423.7,353.2 L424.7,358 L422.6,363.8 L419.4,368.6 L414.6,371.8 L412,376.5 L409.3,381.8 L406.7,387.1 L403.5,391.4 L399.3,395.6 L395,398.8 L390.8,402 L388.6,406.2 L386,410.5 L382.3,414.7 L379.1,417.9 L377.5,416.3 L379.1,412.6 L381.2,408.4 L378,405.2 L373.8,402 L369.5,397.7 L366.4,394.6 L360,392.4 L351.8,387.4 L344.9,385.4 L340.9,382.4 L347.9,377.4 L354.8,371.5 L361.8,363.5 L369.7,357.5 L377.7,354.5 L376.7,351.6 L376.7,344.6 L373.7,341.6 L369.7,337.6 L371.7,329.7 L368.7,323.7 L360.8,322.7 L358.8,313.8 L354.8,307.8 L349.8,305.8 L338.9,304.8 L338.9,297.9 L337.9,289.9 L334.9,283.9 L336.9,278 L339.8,269.4 L337.8,263.4 L332.8,257.4 L330.8,249.5 L316.9,249.5 L316.9,239.5 L313.9,237.5 L312.9,227.6 L309.3,223.6 L303.3,222.6 L297.4,221.6 L291.4,217.6 L285.4,214.6 L279.5,211.6 L273.5,207.6 L269.5,201.7 L267.5,193.7 L265.5,186.8 L259.6,186.8 L254.6,187.7 L249.6,191.7 L243.7,195.7 L237.7,198.7 L227.7,198.7 L219.8,197.7 L218.8,188.7 L203.9,188.7 L202.9,185.8 L198.9,182.8 L193.9,181.8 L193.9,175.8 L189.9,169.8 L188,163.9Z" fill="#92d5c5"/>
<g stroke="#46534f" stroke-width="0.7" stroke-linejoin="round">
<path d="M188,163.9 L199.9,165.9 L211.8,167.9 L223.8,168.8 L229.7,175.8 L239.7,181.8 L247.6,185.8 L254.6,187.7 L249.6,191.7 L243.7,195.7 L237.7,198.7 L227.7,198.7 L219.8,197.7 L218.8,188.7 L203.9,188.7 L202.9,185.8 L198.9,182.8 L193.9,181.8 L193.9,175.8 L189.9,169.8 L188,163.9Z" fill="#92d5c5"/>
<path d="M188,163.9 L194.9,153.3 L195.9,145.4 L199.9,140.4 L205.9,136.4 L210,135.9 L217.4,133.2 L220.6,134.3 L224.9,133.7 L225.9,127.9 L227.5,119.4 L228.6,110.9 L229.6,103.5 L227.5,100.3 L225.9,95 L223.3,92.9 L223.8,87.1 L231.8,85.5 L231.8,83.3 L225.4,82.3 L225.4,76.4 L239.7,75.4 L240.8,73.8 L244,74.3 L248.2,71.1 L249.8,73.8 L250.8,79.6 L254.6,81.2 L258.8,84.9 L262,83.9 L265.2,86 L269.4,82.3 L277.9,77.5 L284.3,71.7 L284.7,71.4 L291.8,76.2 L295.8,84.1 L297.4,93.7 L295.8,100 L298.2,103.2 L303,106.4 L306.2,100 L310.9,100.8 L314.9,96.8 L317.3,90.5 L326.5,89.7 L328.4,96.8 L333.2,103.2 L339.6,108 L345.9,112.8 L352.3,113.1 L349.1,119.1 L344.4,131.9 L339.6,144.6 L338,150 L332.5,156 L334.8,163.9 L333.2,171 L332.4,177.2 L303.3,177.8 L299.4,176.8 L293.4,172.8 L287.4,169.8 L281.5,171.8 L277.5,176.8 L271.5,179.8 L267.5,184.8 L265.5,186.8 L259.6,186.8 L254.6,187.7 L247.6,185.8 L239.7,181.8 L229.7,175.8 L223.8,168.8 L211.8,167.9 L199.9,165.9 L188,163.9Z" fill="#fc8e6b"/>
<path d="M284.7,71.4 L280.7,68.2 L278.8,61 L275.9,55.5 L272.7,51.5 L279.1,53.9 L285.5,55.5 L291.8,53.9 L299.8,49.9 L307.7,47.5 L310.9,42.7 L315.7,42.4 L316,47.5 L320.5,52.3 L319.2,58.6 L317.3,66.6 L321.3,74.6 L326.8,80.1 L326.5,89.7 L317.3,90.5 L314.9,96.8 L310.9,100.8 L306.2,100 L303,106.4 L298.2,103.2 L295.8,100 L297.4,93.7 L295.8,84.1 L291.8,76.2 L284.7,71.4Z" fill="#fc8e6b"/>
<path d="M265.5,186.8 L267.5,184.8 L271.5,179.8 L277.5,176.8 L281.5,171.8 L287.4,169.8 L293.4,172.8 L299.4,176.8 L303.3,177.8 L303.3,197.7 L315.3,198.7 L317.3,203.7 L318.3,209.6 L315.3,215.6 L312.3,223.6 L312.9,227.6 L309.3,223.6 L303.3,222.6 L297.4,221.6 L291.4,217.6 L285.4,214.6 L279.5,211.6 L273.5,207.6 L269.5,201.7 L267.5,193.7 L265.5,186.8Z" fill="#efefef"/>
<path d="M326.8,80.1 L330,79.3 L334.8,76.2 L341.2,74.6 L347.5,72.2 L353.9,71.4 L355.5,69 L361.9,68.2 L365.8,69 L372.8,75.8 L379.7,83.7 L383.7,91.7 L386.7,100.6 L391.7,103.6 L396.6,99.6 L403.6,91.7 L410.6,87.7 L415.5,93.7 L423.5,97.6 L429.5,99.6 L437.4,100.6 L446.4,104.6 L445.6,110 L444.3,116.6 L441,123.3 L437,129.9 L433.1,135.9 L427.7,140.5 L422.4,143.8 L426.4,145.8 L425.8,151.1 L422.4,156.4 L418.5,160.4 L417.1,165.7 L416.5,171 L413.8,176.3 L411.2,181.6 L408.4,186.8 L399.5,186.8 L379.6,185.4 L359.7,183.4 L347.7,181.8 L342.8,178.8 L338.8,171.9 L334.8,163.9 L332.5,156 L338,150 L339.6,144.6 L344.4,131.9 L349.1,119.1 L352.3,113.1 L345.9,112.8 L339.6,108 L333.2,103.2 L328.4,96.8 L326.5,89.7 L326.8,80.1Z" fill="#92d5c5"/>
<path d="M365.8,69 L372.8,70.8 L379.7,69.8 L385.7,68.8 L389.7,59.8 L396.6,49.9 L399.6,55.9 L402.6,69.8 L409.6,76.8 L410.6,87.7 L403.6,91.7 L396.6,99.6 L391.7,103.6 L386.7,100.6 L383.7,91.7 L379.7,83.7 L372.8,75.8 L365.8,69Z" fill="#92d5c5"/>
<path d="M422.4,143.8 L427.7,142.5 L431.7,145.8 L433.7,153.8 L434.4,161.7 L437,167 L441,169.7 L442.3,172.3 L439.7,176.3 L441,181.6 L443.7,186.9 L446.3,190.9 L449.6,192.2 L445.9,197.9 L444.9,205.9 L445.9,213.8 L444.5,219 L437.3,218.6 L431.3,220.6 L425.3,219.6 L419.4,217.6 L415.4,218.6 L409.4,216.6 L404.4,213.7 L404.4,201.7 L406.4,193.8 L408.4,186.8 L411.2,181.6 L413.8,176.3 L416.5,171 L417.1,165.7 L418.5,160.4 L422.4,156.4 L425.8,151.1 L426.4,145.8 L422.4,143.8Z" fill="#92d5c5"/>
<path d="M446.4,104.6 L451.8,105.6 L458.2,107.2 L462.2,114.3 L467.7,115.9 L474.1,115.9 L480.5,118.3 L486,120.7 L482.1,125.5 L477.3,131.8 L475.7,139.8 L474.9,147.7 L474.1,157.3 L467.7,158.9 L459.8,163.7 L454.2,166.8 L450.2,173.2 L448.6,182.8 L449.6,192.2 L446.3,190.9 L443.7,186.9 L441,181.6 L439.7,176.3 L442.3,172.3 L441,169.7 L437,167 L434.4,161.7 L433.7,153.8 L431.7,145.8 L427.7,142.5 L422.4,143.8 L427.7,140.5 L433.1,135.9 L437,129.9 L441,123.3 L444.3,116.6 L445.6,110 L446.4,104.6Z" fill="#92d5c5"/>
<path d="M486,120.7 L490.8,120.7 L492.4,131.8 L494,139.8 L494.8,150.9 L498,157.3 L496.5,164.5 L493,170 L494,178 L490.8,174.8 L488.4,178 L483.7,180.4 L478.9,183.6 L474.1,182.8 L468.5,184.4 L466.9,190.7 L463,195.5 L458.2,197.1 L454.2,195.5 L449.6,192.2 L448.6,182.8 L450.2,173.2 L454.2,166.8 L459.8,163.7 L467.7,158.9 L474.1,157.3 L474.9,147.7 L475.7,139.8 L477.3,131.8 L482.1,125.5 L486,120.7Z" fill="#fc8e6b"/>
<path d="M490.8,120.7 L499.6,119.9 L505.9,119.9 L512.3,123.1 L518.7,128.6 L520.5,132.5 L525.8,137.1 L527.1,138.7 L524.7,143.1 L523.2,147.7 L521.8,151.1 L519.4,152.4 L517.2,155.7 L517.9,161 L516.5,165 L518.5,167.6 L510,166.5 L503,165.5 L496.5,164.5 L498,157.3 L494.8,150.9 L494,139.8 L492.4,131.8 L490.8,120.7Z" fill="#efefef"/>
<path d="M527.1,138.7 L529.8,139.8 L535.1,141.8 L541.7,141.8 L545.7,142.4 L548.1,147.1 L548.4,151.1 L543.1,152.4 L539.1,154.4 L535.8,155 L533.8,158.4 L529.1,157 L527.8,152.4 L523.2,153.7 L519.4,152.4 L521.8,151.1 L523.2,147.7 L524.7,143.1 L527.1,138.7Z" fill="#fc8e6b"/>
<path d="M519.4,152.4 L523.2,153.7 L527.8,152.4 L529.1,157 L533.8,158.4 L535.8,155 L539.1,154.4 L543.1,152.4 L548.4,151.1 L550.6,154.1 L551.3,162 L551.5,168.9 L547,169 L543.1,168.3 L539.1,167.6 L536.4,170.3 L533.8,172.3 L531.1,170.3 L529.8,165 L525.8,163.7 L521.8,166.3 L518.5,167.6 L516.5,165 L517.9,161 L517.2,155.7 L519.4,152.4Z" fill="#efefef"/>
<path d="M496.5,164.5 L503,165.5 L510,166.5 L518.5,167.6 L521.8,166.3 L525.8,163.7 L529.8,165 L531.1,170.3 L533.8,172.3 L536.4,170.3 L539.1,167.6 L543.1,168.3 L547,169 L551.5,168.9 L550.8,174 L548.3,178.7 L544.6,178.2 L539.9,179.1 L537.1,181.9 L531.6,182.4 L527.9,181 L524.1,179.1 L520,181 L516,180.5 L510,181 L502,180.5 L498,182.5 L494,178 L493,170 L496.5,164.5Z" fill="#92d5c5"/>
<path d="M520,181 L524.1,179.1 L527.9,181 L531.6,182.4 L537.1,181.9 L539.9,179.1 L544.6,178.2 L548.3,178.7 L546.4,181.9 L541.8,187.5 L537.5,192 L532.5,191.2 L527.9,188.4 L523.2,185.6 L521,185 L520,181Z" fill="#efefef"/>
<path d="M521,185 L523.2,185.6 L527.9,188.4 L532.5,191.2 L537.5,192 L532.5,196.8 L528.5,202.5 L523.2,202.3 L521.4,197.7 L524.1,194 L521,185Z" fill="#efefef"/>
<path d="M449.6,192.2 L454.2,195.5 L458.2,197.1 L463,195.5 L466.9,190.7 L468.5,184.4 L474.1,182.8 L478.9,183.6 L483.7,180.4 L488.4,178 L490.8,174.8 L494,178 L498,182.5 L502,180.5 L510,181 L516,180.5 L520,181 L521,185 L524.1,194 L521.4,197.7 L523.2,202.3 L528.5,202.5 L527.4,205.9 L523.4,211.8 L518.5,216.8 L514.5,219.8 L513.5,225.8 L513.1,235.7 L512.5,247.6 L511.5,257.6 L508.5,265.5 L507.5,268.5 L505.5,267.5 L502.6,264.5 L499.6,261.6 L500.6,256.6 L504.5,251.6 L503.6,246.6 L495.6,243.7 L489.6,240.7 L483.7,237.7 L477.7,234.7 L469.7,233.7 L467.7,229.7 L461.8,230.7 L453.8,234.7 L447.2,239.5 L446.9,227.7 L444.5,219 L445.9,213.8 L444.9,205.9 L445.9,197.9 L449.6,192.2Z" fill="#92d5c5"/>
<path d="M303.3,177.8 L332.4,177.2 L333.2,171 L334.8,163.9 L338.8,171.9 L342.8,178.8 L347.7,181.8 L359.7,183.4 L379.6,185.4 L399.5,186.8 L408.4,186.8 L406.4,193.8 L404.4,201.7 L404.4,213.7 L403.4,217.6 L401.5,225.6 L399.5,233.6 L395.5,239.5 L391.5,245.5 L385.5,251.5 L381.6,259.4 L380.6,267.4 L375.6,265.4 L373.6,261.4 L365.6,259.4 L357.7,260.4 L349.7,259.4 L343.8,263.4 L339.8,269.4 L337.8,263.4 L332.8,257.4 L330.8,249.5 L316.9,249.5 L316.9,239.5 L313.9,237.5 L312.9,227.6 L312.3,223.6 L315.3,215.6 L318.3,209.6 L317.3,203.7 L315.3,198.7 L303.3,197.7 L303.3,177.8Z" fill="#92d5c5"/>
<path d="M404.4,213.7 L409.4,216.6 L415.4,218.6 L419.4,217.6 L425.3,219.6 L431.3,220.6 L437.3,218.6 L444.5,219 L446.9,227.7 L447.2,239.5 L445.2,237 L441.5,241 L437.5,247 L435,251.8 L437,255.8 L434.4,259.8 L435,265.1 L430.4,269.1 L419.8,270.4 L411.8,273 L404.5,278.3 L397.5,277.3 L389.5,275.3 L385.5,271.4 L380.6,267.4 L381.6,259.4 L385.5,251.5 L391.5,245.5 L395.5,239.5 L399.5,233.6 L401.5,225.6 L403.4,217.6 L404.4,213.7Z" fill="#92d5c5"/>
<path d="M339.8,269.4 L343.8,263.4 L349.7,259.4 L357.7,260.4 L365.6,259.4 L373.6,261.4 L375.6,265.4 L380.6,267.4 L385.5,271.4 L389.5,275.3 L397.5,277.3 L404.5,278.3 L402,284 L399.6,287.9 L395.6,293.9 L391.6,300.8 L387.6,307.8 L385.6,310.8 L381.7,312.8 L375.7,315.8 L371.7,320.7 L368.7,323.7 L360.8,322.7 L358.8,313.8 L354.8,307.8 L349.8,305.8 L338.9,304.8 L338.9,297.9 L337.9,289.9 L334.9,283.9 L336.9,278 L339.8,269.4Z" fill="#92d5c5"/>
<path d="M447.2,239.5 L453.8,234.7 L461.8,230.7 L467.7,229.7 L469.7,233.7 L477.7,234.7 L483.7,237.7 L489.6,240.7 L495.6,243.7 L503.6,246.6 L504.5,251.6 L500.6,256.6 L499.6,261.6 L502.6,264.5 L505.5,267.5 L499.6,266.5 L495.6,268.5 L493.6,273.5 L490.6,279.5 L488.6,287.4 L486.6,295.4 L487.6,297.4 L483.7,299.4 L479.7,303.3 L475.7,304.9 L469.7,307.3 L464.8,309.3 L463.2,308.8 L457.3,309.8 L449.3,312.8 L443.3,308.8 L441.4,301.8 L437.4,295.9 L435.4,289.9 L429.4,285.9 L419.5,286.9 L405.5,285.9 L402,284 L404.5,278.3 L411.8,273 L419.8,270.4 L430.4,269.1 L435,265.1 L434.4,259.8 L437,255.8 L435,251.8 L437.5,247 L441.5,241 L445.2,237 L447.2,239.5Z" fill="#92d5c5"/>
<path d="M505.5,267.5 L507.5,268.5 L506.5,273.5 L504.5,279.5 L502,285.4 L499.6,291.4 L496.6,295.4 L487.6,297.4 L486.6,295.4 L488.6,287.4 L490.6,279.5 L493.6,273.5 L495.6,268.5 L499.6,266.5 L505.5,267.5Z" fill="#92d5c5"/>
<path d="M464.8,309.3 L469.7,307.3 L475.7,304.9 L479.7,303.3 L483.7,299.4 L487.6,297.4 L496.6,295.4 L495.5,301.8 L491,308 L485.9,313 L479.6,313.8 L471.6,313 L466.8,315.4 L461.8,317.3 L462.8,315.3 L464.8,309.3Z" fill="#92d5c5"/>
<path d="M402,284 L405.5,285.9 L419.5,286.9 L429.4,285.9 L435.4,289.9 L437.4,295.9 L441.4,301.8 L443.3,308.8 L449.3,312.8 L457.3,309.8 L463.2,308.8 L464.8,309.3 L462.8,315.3 L461.8,317.3 L455.8,319.3 L453.8,323.2 L447.9,324.2 L441.9,327.2 L438.9,330 L433.4,331.7 L427.4,334.7 L425.4,333.7 L419.5,329.7 L415.5,323.7 L413.5,317.7 L409.5,314.8 L403.6,312.8 L393.6,310.8 L385.6,310.8 L387.6,307.8 L391.6,300.8 L395.6,293.9 L399.6,287.9 L402,284Z" fill="#92d5c5"/>
<path d="M385.6,310.8 L393.6,310.8 L403.6,312.8 L409.5,314.8 L413.5,317.7 L415.5,323.7 L419.5,329.7 L425.4,333.7 L427.4,334.7 L425.4,339.6 L423.4,345.6 L415.5,343.6 L407.5,344.6 L399.6,346.6 L391.6,347.6 L383.7,346.6 L376.7,344.6 L373.7,341.6 L369.7,337.6 L371.7,329.7 L368.7,323.7 L371.7,320.7 L375.7,315.8 L381.7,312.8 L385.6,310.8Z" fill="#92d5c5"/>
<path d="M376.7,344.6 L383.7,346.6 L391.6,347.6 L399.6,346.6 L407.5,344.6 L415.5,343.6 L423.4,345.6 L423.7,353.2 L424.7,358 L422.6,363.8 L419.4,368.6 L414.6,371.8 L412.5,371 L411,368 L407,365.5 L401.6,361.5 L393.6,357.5 L385.6,355.5 L377.7,354.5 L376.7,351.6 L376.7,344.6Z" fill="#92d5c5"/>
<path d="M377.7,354.5 L385.6,355.5 L393.6,357.5 L401.6,361.5 L407,365.5 L411,368 L412.5,371 L414.6,371.8 L412,376.5 L409.3,381.8 L406.7,387.1 L403.5,391.4 L399.3,395.6 L395,398.8 L390.8,402 L388.6,406.2 L386,410.5 L382.3,414.7 L379.1,417.9 L377.5,416.3 L379.1,412.6 L381.2,408.4 L378,405.2 L373.8,402 L369.5,397.7 L366.4,394.6 L360,392.4 L351.8,387.4 L344.9,385.4 L340.9,382.4 L347.9,377.4 L354.8,371.5 L361.8,363.5 L369.7,357.5 L377.7,354.5Z" fill="#92d5c5"/>
<rect x="426.7" y="242.3" width="8.5" height="5.3" fill="#fc8e6b"/>
</g>
<path d="M398.7,382.4 L401.9,384.5 L404.6,383.7 L405.8,386.1 L403,390.3 L398.7,394.6 L394.5,398.3 L391.8,400.1 L391.3,398.8 L394,395.6 L397.1,391.4 L399.5,386.6Z" fill="#fff" stroke="#000" stroke-width="1"/><path d="M385.5,405.2 L386.3,407.8 L383.9,410.7 L382.5,409.9 L383.9,407.3Z" fill="#fff" stroke="#000" stroke-width="0.9"/>
<g fill="none" stroke="#000" stroke-width="1.7" stroke-linejoin="round" stroke-linecap="round">
<path d="M188,163.9 L194.9,153.3 L195.9,145.4 L199.9,140.4 L205.9,136.4 L210,135.9 L217.4,133.2 L220.6,134.3 L224.9,133.7 L225.9,127.9 L227.5,119.4 L228.6,110.9 L229.6,103.5 L227.5,100.3 L225.9,95 L223.3,92.9 L223.8,87.1 L231.8,85.5 L231.8,83.3 L225.4,82.3 L225.4,76.4 L239.7,75.4 L240.8,73.8 L244,74.3 L248.2,71.1 L249.8,73.8 L250.8,79.6 L254.6,81.2 L258.8,84.9 L262,83.9 L265.2,86 L269.4,82.3 L277.9,77.5 L284.3,71.7 L284.7,71.4 L280.7,68.2 L278.8,61 L275.9,55.5 L272.7,51.5 L279.1,53.9 L285.5,55.5 L291.8,53.9 L299.8,49.9 L307.7,47.5 L310.9,42.7 L315.7,42.4 L316,47.5 L320.5,52.3 L319.2,58.6 L317.3,66.6 L321.3,74.6 L326.8,80.1 L330,79.3 L334.8,76.2 L341.2,74.6 L347.5,72.2 L353.9,71.4 L355.5,69 L361.9,68.2 L365.8,69 L372.8,70.8 L379.7,69.8 L385.7,68.8 L389.7,59.8 L396.6,49.9 L399.6,55.9 L402.6,69.8 L409.6,76.8 L410.6,87.7 L415.5,93.7 L423.5,97.6 L429.5,99.6 L437.4,100.6 L446.4,104.6 L451.8,105.6 L458.2,107.2 L462.2,114.3 L467.7,115.9 L474.1,115.9 L480.5,118.3 L486,120.7 L490.8,120.7 L499.6,119.9 L505.9,119.9 L512.3,123.1 L518.7,128.6 L520.5,132.5 L525.8,137.1 L527.1,138.7 L529.8,139.8 L535.1,141.8 L541.7,141.8 L545.7,142.4 L548.1,147.1 L548.4,151.1 L550.6,154.1 L551.3,162 L551.5,168.9 L550.8,174 L548.3,178.7 L546.4,181.9 L541.8,187.5 L537.5,192 L532.5,196.8 L528.5,202.5 L527.4,205.9 L523.4,211.8 L518.5,216.8 L514.5,219.8 L513.5,225.8 L513.1,235.7 L512.5,247.6 L511.5,257.6 L508.5,265.5 L507.5,268.5 L506.5,273.5 L504.5,279.5 L502,285.4 L499.6,291.4 L496.6,295.4 L495.5,301.8 L491,308 L485.9,313 L479.6,313.8 L471.6,313 L466.8,315.4 L461.8,317.3 L455.8,319.3 L453.8,323.2 L447.9,324.2 L441.9,327.2 L438.9,330 L433.4,331.7 L427.4,334.7 L425.4,339.6 L423.4,345.6 L423.7,353.2 L424.7,358 L422.6,363.8 L419.4,368.6 L414.6,371.8 L412,376.5 L409.3,381.8 L406.7,387.1 L403.5,391.4 L399.3,395.6 L395,398.8 L390.8,402 L388.6,406.2 L386,410.5 L382.3,414.7 L379.1,417.9 L377.5,416.3 L379.1,412.6 L381.2,408.4 L378,405.2 L373.8,402 L369.5,397.7 L366.4,394.6 L360,392.4 L351.8,387.4 L344.9,385.4 L340.9,382.4 L347.9,377.4 L354.8,371.5 L361.8,363.5 L369.7,357.5 L377.7,354.5 L376.7,351.6 L376.7,344.6 L373.7,341.6 L369.7,337.6 L371.7,329.7 L368.7,323.7 L360.8,322.7 L358.8,313.8 L354.8,307.8 L349.8,305.8 L338.9,304.8 L338.9,297.9 L337.9,289.9 L334.9,283.9 L336.9,278 L339.8,269.4 L337.8,263.4 L332.8,257.4 L330.8,249.5 L316.9,249.5 L316.9,239.5 L313.9,237.5 L312.9,227.6 L309.3,223.6 L303.3,222.6 L297.4,221.6 L291.4,217.6 L285.4,214.6 L279.5,211.6 L273.5,207.6 L269.5,201.7 L267.5,193.7 L265.5,186.8 L259.6,186.8 L254.6,187.7 L249.6,191.7 L243.7,195.7 L237.7,198.7 L227.7,198.7 L219.8,197.7 L218.8,188.7 L203.9,188.7 L202.9,185.8 L198.9,182.8 L193.9,181.8 L193.9,175.8 L189.9,169.8 L188,163.9Z"/>
<path d="M303.3,177.8 L303.3,197.7 L315.3,198.7 L317.3,203.7 L318.3,209.6 L315.3,215.6 L312.3,223.6 L312.9,227.6"/>
<path d="M303.3,177.8 L332.4,177.2 L333.2,171 L334.8,163.9"/>
<path d="M334.8,163.9 L338.8,171.9 L342.8,178.8 L347.7,181.8 L359.7,183.4 L379.6,185.4 L399.5,186.8 L408.4,186.8"/>
<path d="M408.4,186.8 L406.4,193.8 L404.4,201.7 L404.4,213.7"/>
<path d="M404.4,213.7 L409.4,216.6 L415.4,218.6 L419.4,217.6 L425.3,219.6 L431.3,220.6 L437.3,218.6 L444.5,219"/>
<path d="M446.4,104.6 L445.6,110 L444.3,116.6 L441,123.3 L437,129.9 L433.1,135.9 L427.7,140.5 L422.4,143.8"/>
<path d="M422.4,143.8 L427.7,142.5 L431.7,145.8 L433.7,153.8 L434.4,161.7 L437,167 L441,169.7 L442.3,172.3 L439.7,176.3 L441,181.6 L443.7,186.9 L446.3,190.9 L449.6,192.2"/>
<path d="M449.6,192.2 L445.9,197.9 L444.9,205.9 L445.9,213.8 L444.5,219"/>
<path d="M444.5,219 L446.9,227.7 L447.2,239.5"/>
<path d="M447.2,239.5 L445.2,237 L441.5,241 L437.5,247 L435,251.8 L437,255.8 L434.4,259.8 L435,265.1 L430.4,269.1 L419.8,270.4 L411.8,273 L404.5,278.3"/>
<path d="M404.5,278.3 L402,284"/>
<path d="M402,284 L399.6,287.9 L395.6,293.9 L391.6,300.8 L387.6,307.8 L385.6,310.8"/>
<path d="M385.6,310.8 L381.7,312.8 L375.7,315.8 L371.7,320.7 L368.7,323.7"/>
<path d="M385.6,310.8 L393.6,310.8 L403.6,312.8 L409.5,314.8 L413.5,317.7 L415.5,323.7 L419.5,329.7 L425.4,333.7 L427.4,334.7"/>
<path d="M447.2,239.5 L453.8,234.7 L461.8,230.7 L467.7,229.7 L469.7,233.7 L477.7,234.7 L483.7,237.7 L489.6,240.7 L495.6,243.7 L503.6,246.6 L504.5,251.6 L500.6,256.6 L499.6,261.6 L502.6,264.5 L505.5,267.5"/>
<path d="M505.5,267.5 L507.5,268.5"/>
</g>
<circle cx="574" cy="130" r="0.9" fill="#333"/>
<line x1="535" y1="149.5" x2="560" y2="149.5" stroke="#4a4a4a" stroke-width="1.3"/>
<line x1="534.3" y1="185.9" x2="567" y2="185.9" stroke="#4a4a4a" stroke-width="1.3"/>
<g font-size="9" fill="#222" stroke="#222" stroke-width="0.15">
<rect x="293.3" y="68.2" width="25.3" height="14.5" rx="2.1" fill="#fff" stroke="#4c4c4c" stroke-width="0.85"/><text x="306.0" y="78.8" text-anchor="middle">22%</text>
<rect x="377.8" y="70.2" width="28.3" height="14.5" rx="2.1" fill="#fff" stroke="#4c4c4c" stroke-width="0.85"/><text x="392.0" y="80.8" text-anchor="middle">-40%</text>
<rect x="272.3" y="122.8" width="25.3" height="14.5" rx="2.1" fill="#fff" stroke="#4c4c4c" stroke-width="0.85"/><text x="285.0" y="133.3" text-anchor="middle">36%</text>
<rect x="377.7" y="120.5" width="28.3" height="14.5" rx="2.1" fill="#fff" stroke="#4c4c4c" stroke-width="0.85"/><text x="391.9" y="131.1" text-anchor="middle">-40%</text>
<rect x="202.8" y="173.8" width="28.3" height="14.5" rx="2.1" fill="#fff" stroke="#4c4c4c" stroke-width="0.85"/><text x="217.0" y="184.3" text-anchor="middle">-29%</text>
<rect x="274.8" y="190.4" width="20.3" height="14.5" rx="2.1" fill="#fff" stroke="#4c4c4c" stroke-width="0.85"/><text x="285.0" y="201.0" text-anchor="middle">0%</text>
<rect x="345.8" y="208.2" width="28.3" height="14.5" rx="2.1" fill="#fff" stroke="#4c4c4c" stroke-width="0.85"/><text x="360.0" y="218.7" text-anchor="middle">-11%</text>
<rect x="410.8" y="175.8" width="28.3" height="14.5" rx="2.1" fill="#fff" stroke="#4c4c4c" stroke-width="0.85"/><text x="425.0" y="186.3" text-anchor="middle">-23%</text>
<rect x="439.8" y="139.7" width="28.3" height="14.5" rx="2.1" fill="#fff" stroke="#4c4c4c" stroke-width="0.85"/><text x="454.0" y="150.2" text-anchor="middle">-14%</text>
<rect x="472.7" y="151.9" width="25.3" height="14.5" rx="2.1" fill="#fff" stroke="#4c4c4c" stroke-width="0.85"/><text x="485.4" y="162.5" text-anchor="middle">16%</text>
<rect x="497.5" y="136.8" width="23.3" height="14.5" rx="2.1" fill="#fff" stroke="#4c4c4c" stroke-width="0.85"/><text x="509.2" y="147.4" text-anchor="middle">-4%</text>
<rect x="559.4" y="142.6" width="30.3" height="14.5" rx="2.1" fill="#fff" stroke="#4c4c4c" stroke-width="0.85"/><text x="574.6" y="153.1" text-anchor="middle">864%</text>
<rect x="537.7" y="154.8" width="20.3" height="14.5" rx="2.1" fill="#fff" stroke="#4c4c4c" stroke-width="0.85"/><text x="547.9" y="165.3" text-anchor="middle">4%</text>
<rect x="490.8" y="166.7" width="28.3" height="14.5" rx="2.1" fill="#fff" stroke="#4c4c4c" stroke-width="0.85"/><text x="505.0" y="177.2" text-anchor="middle">-20%</text>
<rect x="566.1" y="178.6" width="23.3" height="14.5" rx="2.1" fill="#fff" stroke="#4c4c4c" stroke-width="0.85"/><text x="577.8" y="189.1" text-anchor="middle">-2%</text>
<rect x="538.3" y="187.9" width="20.3" height="14.5" rx="2.1" fill="#fff" stroke="#4c4c4c" stroke-width="0.85"/><text x="548.5" y="198.5" text-anchor="middle">5%</text>
<rect x="465.4" y="214.8" width="28.3" height="14.5" rx="2.1" fill="#fff" stroke="#4c4c4c" stroke-width="0.85"/><text x="479.6" y="225.4" text-anchor="middle">-10%</text>
<rect x="393.8" y="239.8" width="28.3" height="14.5" rx="2.1" fill="#fff" stroke="#4c4c4c" stroke-width="0.85"/><text x="408.0" y="250.3" text-anchor="middle">-45%</text>
<rect x="418.3" y="237.8" width="25.3" height="14.5" rx="2.1" fill="#fff" stroke="#4c4c4c" stroke-width="0.85"/><text x="431.0" y="248.3" text-anchor="middle">23%</text>
<rect x="440.8" y="264.8" width="28.3" height="14.5" rx="2.1" fill="#fff" stroke="#4c4c4c" stroke-width="0.85"/><text x="455.0" y="275.3" text-anchor="middle">-30%</text>
<rect x="485.4" y="274.6" width="28.3" height="14.5" rx="2.1" fill="#fff" stroke="#4c4c4c" stroke-width="0.85"/><text x="499.6" y="285.1" text-anchor="middle">-15%</text>
<rect x="470.2" y="298.4" width="28.3" height="14.5" rx="2.1" fill="#fff" stroke="#4c4c4c" stroke-width="0.85"/><text x="484.4" y="308.9" text-anchor="middle">-19%</text>
<rect x="402.8" y="302.8" width="28.3" height="14.5" rx="2.1" fill="#fff" stroke="#4c4c4c" stroke-width="0.85"/><text x="417.0" y="313.3" text-anchor="middle">-29%</text>
<rect x="351.4" y="284.1" width="28.3" height="14.5" rx="2.1" fill="#fff" stroke="#4c4c4c" stroke-width="0.85"/><text x="365.6" y="294.7" text-anchor="middle">-32%</text>
<rect x="381.9" y="322.8" width="23.3" height="14.5" rx="2.1" fill="#fff" stroke="#4c4c4c" stroke-width="0.85"/><text x="393.6" y="333.3" text-anchor="middle">-8%</text>
<rect x="396.8" y="352.2" width="28.3" height="14.5" rx="2.1" fill="#fff" stroke="#4c4c4c" stroke-width="0.85"/><text x="411.0" y="362.8" text-anchor="middle">-12%</text>
<rect x="360.6" y="379.1" width="28.3" height="14.5" rx="2.1" fill="#fff" stroke="#4c4c4c" stroke-width="0.85"/><text x="374.8" y="389.7" text-anchor="middle">-13%</text>
</g>
<text x="203.3" y="316.6" font-size="12.2" font-weight="bold" fill="#111">Óbitos novos</text>
<rect x="203.9" y="325.0" width="16" height="16.6" fill="#92d5c5" stroke="#8a8a8a" stroke-width="1"/>
<text x="227.5" y="337.4" font-size="10.15" fill="#1a1a1a">Redução (17)</text>
<rect x="203.9" y="342.8" width="16" height="16.6" fill="#efefef" stroke="#8a8a8a" stroke-width="1"/>
<text x="227.5" y="355.2" font-size="10.15" fill="#1a1a1a">Estabilização (5)</text>
<rect x="203.9" y="360.6" width="16" height="16.6" fill="#fc8e6b" stroke="#8a8a8a" stroke-width="1"/>
<text x="227.5" y="373.0" font-size="10.15" fill="#1a1a1a">Incremento (5)</text>
<defs><linearGradient id="ng438" x1="0" y1="0" x2="1" y2="0"><stop offset="0" stop-color="#fff"/><stop offset="1" stop-color="#bdbdbd"/></linearGradient></defs>
<circle cx="534" cy="65" r="14" fill="none" stroke="#222" stroke-width="1.6"/>
<path d="M534,43.3 L547.7,78.8 L534,65.5 L520.2,78.8Z" fill="#fff" stroke="#444" stroke-width="0.9" stroke-linejoin="miter"/>
<path d="M534,43.3 L534,65.5 L520.2,78.8Z" fill="url(#ng438)" stroke="#555" stroke-width="0.5"/>
<rect x="450" y="410" width="103" height="8.6" fill="#fff" stroke="#000" stroke-width="1.3"/>
<rect x="450" y="410" width="52" height="8.6" fill="#000"/>
<g font-size="8.5" fill="#333" text-anchor="middle"><text x="450.5" y="432.8">0</text><text x="501.5" y="432.8">500</text><text x="553" y="432.8">1000km</text></g>
</g>
</svg></body></html>
